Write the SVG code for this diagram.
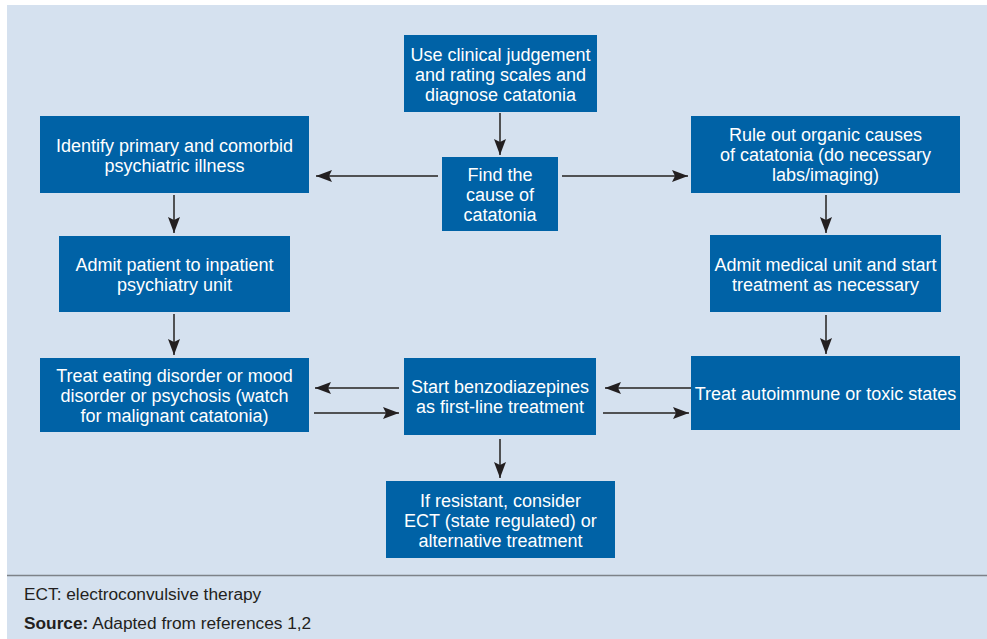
<svg xmlns="http://www.w3.org/2000/svg" width="987" height="639" viewBox="0 0 987 639">
<style>
.box{fill:#0062a6}
.t{font-family:"Liberation Sans",Arial,Helvetica,sans-serif;font-size:18px;fill:#ffffff;text-anchor:middle}
.c{stroke:#505153;stroke-width:2;fill:none;marker-end:url(#ah)}
.f{font-family:"Liberation Sans",Arial,Helvetica,sans-serif;font-size:17.3px;fill:#231f20}
</style>
<defs>
<marker id="ah" markerUnits="userSpaceOnUse" markerWidth="18" markerHeight="14" refX="16" refY="6" orient="auto">
<path d="M0,0 L16,6 L0,12 L3,6 z" fill="#231f20"/>
</marker>
</defs>
<rect x="0" y="0" width="987" height="639" fill="#ffffff"/>
<rect x="7" y="5" width="980" height="634" fill="#d5e1ef"/>
<g id="n1"><rect class="box" x="404" y="35" width="193" height="77"/>
<text class="t" x="500.5" y="60.5">Use clinical judgement</text>
<text class="t" x="500.5" y="80.5">and rating scales and</text>
<text class="t" x="500.5" y="100.5">diagnose catatonia</text></g>
<g id="n2"><rect class="box" x="442" y="157" width="116" height="74"/>
<text class="t" x="500" y="181">Find the</text>
<text class="t" x="500" y="201">cause of</text>
<text class="t" x="500" y="221">catatonia</text></g>
<g id="n3"><rect class="box" x="40" y="116" width="269" height="77"/>
<text class="t" x="174.5" y="151.5">Identify primary and comorbid</text>
<text class="t" x="174.5" y="171.5">psychiatric illness</text></g>
<g id="n4"><rect class="box" x="691" y="116" width="269" height="77"/>
<text class="t" x="825.5" y="141">Rule out organic causes</text>
<text class="t" x="825.5" y="161">of catatonia (do necessary</text>
<text class="t" x="825.5" y="181">labs/imaging)</text></g>
<g id="n5"><rect class="box" x="59" y="236" width="231" height="76"/>
<text class="t" x="174.5" y="271">Admit patient to inpatient</text>
<text class="t" x="174.5" y="291">psychiatry unit</text></g>
<g id="n6"><rect class="box" x="710" y="235" width="231" height="77"/>
<text class="t" x="825.5" y="270.5">Admit medical unit and start</text>
<text class="t" x="825.5" y="290.5">treatment as necessary</text></g>
<g id="n7"><rect class="box" x="40" y="358" width="269" height="74"/>
<text class="t" x="174.5" y="382">Treat eating disorder or mood</text>
<text class="t" x="174.5" y="402">disorder or psychosis (watch</text>
<text class="t" x="174.5" y="422">for malignant catatonia)</text></g>
<g id="n8"><rect class="box" x="404" y="358" width="192" height="77"/>
<text class="t" x="500" y="393">Start benzodiazepines</text>
<text class="t" x="500" y="413">as first-line treatment</text></g>
<g id="n9"><rect class="box" x="691" y="356" width="269" height="74"/>
<text class="t" x="825.5" y="400">Treat autoimmune or toxic states</text></g>
<g id="n10"><rect class="box" x="386" y="481" width="229" height="77"/>
<text class="t" x="500.5" y="506.5">If resistant, consider</text>
<text class="t" x="500.5" y="526.5">ECT (state regulated) or</text>
<text class="t" x="500.5" y="546.5">alternative treatment</text></g>
<g id="connectors">
<line class="c" x1="500" y1="113" x2="500" y2="155"/>
<line class="c" x1="438" y1="176" x2="316" y2="176"/>
<line class="c" x1="562" y1="176" x2="688" y2="176"/>
<line class="c" x1="174" y1="195" x2="174" y2="233"/>
<line class="c" x1="174" y1="314" x2="174" y2="355"/>
<line class="c" x1="826" y1="195" x2="826" y2="233"/>
<line class="c" x1="826" y1="315" x2="826" y2="354"/>
<line class="c" x1="399" y1="388" x2="315" y2="388"/>
<line class="c" x1="314" y1="413" x2="399" y2="413"/>
<line class="c" x1="691" y1="388" x2="605" y2="388"/>
<line class="c" x1="603" y1="413" x2="689" y2="413"/>
<line class="c" x1="500" y1="439" x2="500" y2="478"/>
</g>
<line x1="7" y1="575.5" x2="987" y2="575.5" stroke="#7d8288" stroke-width="1.6"/>
<text class="f" x="24" y="600">ECT: electroconvulsive therapy</text>
<text class="f" x="24" y="629"><tspan font-weight="bold">Source:</tspan> Adapted from references 1,2</text>
</svg>
